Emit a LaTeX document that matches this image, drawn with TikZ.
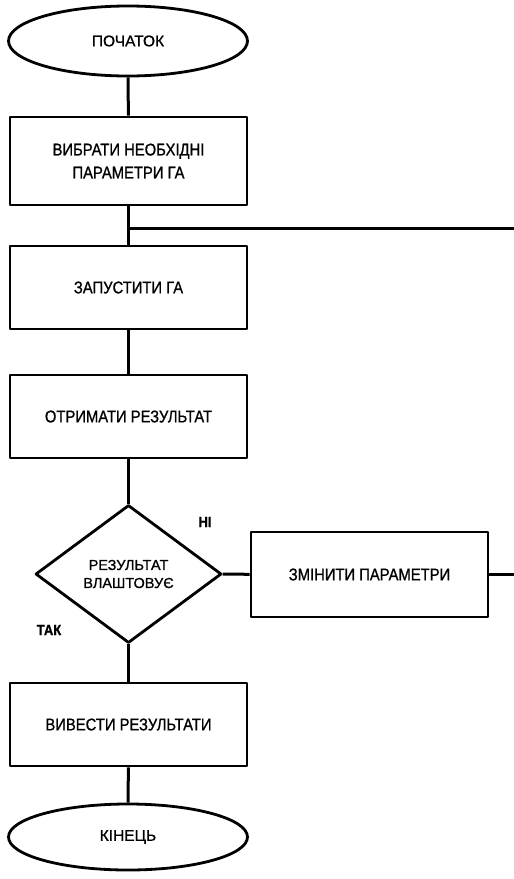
\documentclass[tikz,border=0pt]{standalone}
\usepackage{fontspec}
\setmainfont{Liberation Sans}
\newfontfamily\boxfont[FakeStretch=0.87,FakeBold=0.9]{Liberation Sans}
\newfontfamily\termfont[FakeBold=0.9]{Liberation Sans}
\usetikzlibrary{shapes.geometric}

\begin{document}
\begin{tikzpicture}[x=1pt,y=-1pt,line join=round,
    flow/.style={line width=3pt},
    stepbox/.style={draw,line width=2.8pt,fill=white,minimum width=237pt,minimum height=83pt,
      align=center,inner sep=2pt,font=\boxfont\fontsize{17}{23}\selectfont},
    terminal/.style={draw,ellipse,line width=2.8pt,fill=white,minimum width=239pt,minimum height=70pt,
      inner sep=0pt,font=\termfont\fontsize{15.5}{17}\selectfont},
    decision/.style={draw,diamond,line width=2.8pt,fill=white,minimum width=186pt,minimum height=138pt,
      inner sep=0pt,align=center,font=\termfont\fontsize{14.5}{18}\selectfont},
    answer/.style={font=\boxfont\bfseries\fontsize{15}{17}\selectfont}]
  \useasboundingbox (0,0) rectangle (514,879);
  % main column
  \node[terminal] (start) at (128,41) {ПОЧАТОК};
  \node[stepbox,minimum height=88pt] (select) at (128.5,161) {ВИБРАТИ НЕОБХІДНІ\\ПАРАМЕТРИ ГА};
  \node[stepbox] (run) at (128.5,287.5) {ЗАПУСТИТИ ГА};
  \node[stepbox] (result) at (128.5,416.5) {ОТРИМАТИ РЕЗУЛЬТАТ};
  \node[decision] (check) at (128.5,574) {РЕЗУЛЬТАТ\\ВЛАШТОВУЄ};
  \node[stepbox,minimum height=85pt] (change) at (369.5,574.5) {ЗМІНИТИ ПАРАМЕТРИ};
  \node[stepbox] (output) at (128.5,724.5) {ВИВЕСТИ РЕЗУЛЬТАТИ};
  \node[terminal,minimum height=66pt] (stop) at (128,837) {КІНЕЦЬ};
  % branch labels
  \node[answer] (no) at (205,522) {НІ};
  \node[answer] (yes) at (49,630) {ТАК};
  % loop back to the run step
  \coordinate (join) at (128.5,228);
  \coordinate (joinR) at (514,228);
  \coordinate (changeR) at (514,574.5);
  % connectors
  \draw[flow] (start) -- (select);
  \draw[flow] (select) -- (run);
  \draw[flow] (join) -- (joinR);
  \draw[flow] (run) -- (result);
  \draw[flow] (result) -- (check);
  \draw[flow] (check) -- (change);
  \draw[flow] (change) -- (changeR);
  \draw[flow] (check) -- (output);
  \draw[flow] (output) -- (stop);
\end{tikzpicture}
\end{document}
